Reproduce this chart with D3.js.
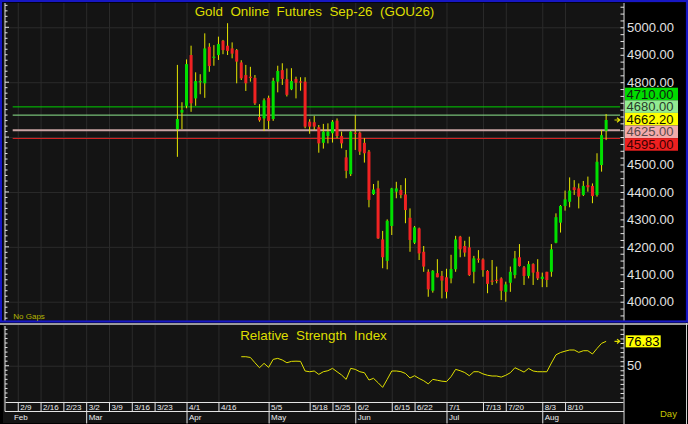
<!DOCTYPE html>
<html>
<head>
<meta charset="utf-8">
<script src="https://cdn.jsdelivr.net/npm/d3@7"></script>
<style>
  body { margin: 0; background: #000; }
  text { font-family: 'Liberation Sans', Arial, sans-serif; }
</style>
</head>
<body>
<div id="chart"></div>
<script>
// daily bars, Gold Online Futures Sep-26
const opens = [4629, 4689, 4714, 4899, 4741, 4800, 4796, 4929, 4889, 4899,
  4951, 4933, 4923, 4917, 4872, 4826, 4820, 4816, 4673, 4668,
  4743, 4666, 4802, 4844, 4811, 4774, 4812, 4803, 4802, 4656,
  4654, 4636, 4579, 4604, 4614, 4660, 4604, 4526, 4465, 4616,
  4616, 4579, 4547, 4392, 4413, 4227, 4149, 4276, 4401, 4407,
  4391, 4306, 4215, 4267, 4182, 4109, 4040, 4104, 4094, 4089,
  4085, 4118, 4237, 4203, 4198, 4109, 4157, 4154, 4112, 4077,
  4080, 4085, 4036, 4069, 4097, 4162, 4125, 4094, 4137, 4109,
  4083, 4109, 4109, 4215, 4288, 4349, 4364, 4417, 4413, 4389,
  4425, 4422, 4389, 4498, 4623]
const highs = [4863, 4727, 4883, 4933, 4836, 4829, 4978, 4942, 4935, 4966,
  4954, 5015, 4945, 4921, 4880, 4863, 4856, 4826, 4720, 4741,
  4751, 4816, 4860, 4869, 4850, 4851, 4820, 4818, 4818, 4665,
  4677, 4644, 4648, 4650, 4662, 4668, 4620, 4553, 4622, 4680,
  4620, 4596, 4553, 4429, 4441, 4258, 4300, 4415, 4437, 4425,
  4450, 4340, 4276, 4270, 4203, 4118, 4115, 4155, 4112, 4120,
  4171, 4240, 4240, 4222, 4237, 4167, 4188, 4158, 4115, 4152,
  4128, 4089, 4073, 4128, 4185, 4210, 4130, 4148, 4140, 4155,
  4106, 4109, 4210, 4322, 4352, 4405, 4453, 4443, 4431, 4440,
  4456, 4431, 4541, 4626, 4684]
const lows = [4528, 4629, 4705, 4692, 4714, 4756, 4743, 4838, 4860, 4881,
  4902, 4899, 4887, 4796, 4808, 4768, 4802, 4717, 4656, 4622,
  4629, 4659, 4763, 4790, 4748, 4771, 4741, 4769, 4632, 4612,
  4626, 4543, 4558, 4577, 4580, 4596, 4559, 4450, 4458, 4553,
  4535, 4507, 4344, 4389, 4229, 4122, 4118, 4243, 4377, 4377,
  4286, 4182, 4210, 4152, 4109, 4018, 4033, 4089, 4012, 4012,
  4067, 4109, 4162, 4164, 4094, 4067, 4142, 4091, 4031, 4061,
  4067, 4006, 4000, 4036, 4085, 4128, 4061, 4085, 4061, 4079,
  4053, 4053, 4091, 4213, 4252, 4332, 4344, 4389, 4340, 4385,
  4401, 4359, 4383, 4474, 4589]
const closes = [4666, 4699, 4866, 4723, 4804, 4804, 4923, 4859, 4893, 4939,
  4917, 4914, 4904, 4875, 4814, 4796, 4816, 4723, 4661, 4734,
  4659, 4805, 4841, 4812, 4754, 4804, 4798, 4800, 4638, 4638,
  4638, 4577, 4620, 4620, 4656, 4604, 4577, 4477, 4620, 4613,
  4547, 4541, 4371, 4409, 4231, 4162, 4295, 4413, 4413, 4389,
  4334, 4225, 4271, 4176, 4128, 4045, 4113, 4089, 4077, 4036,
  4119, 4227, 4191, 4179, 4097, 4158, 4154, 4115, 4065, 4076,
  4078, 4040, 4063, 4109, 4158, 4130, 4094, 4137, 4106, 4085,
  4091, 4079, 4191, 4308, 4349, 4373, 4405, 4407, 4383, 4422,
  4417, 4385, 4510, 4607, 4662.2]

// RSI starts on the 15th bar
const rsiStart = 14
const rsiValues = [59.9, 59.9, 59.1, 53.3, 47.8, 52.6, 48.2, 57.0, 58.1, 56.3,
  53.3, 54.8, 55.0, 54.8, 44.2, 43.4, 44.2, 40.5, 43.4, 44.5,
  47.1, 43.4, 39.8, 35.0, 47.1, 46.0, 43.4, 42.3, 34.3, 36.1,
  31.3, 26.2, 35.0, 44.2, 44.2, 43.5, 41.5, 36.5, 39.0, 36.0,
  33.5, 30.0, 35.0, 34.0, 33.0, 32.5, 38.0, 46.0, 44.5, 42.5,
  39.0, 43.4, 43.4, 41.0, 39.5, 38.7, 38.7, 37.5, 39.5, 42.3,
  47.8, 45.5, 43.0, 47.0, 44.2, 43.4, 43.4, 43.4, 53.0, 62.0,
  64.5, 66.0, 67.3, 67.3, 64.7, 66.5, 66.5, 62.9, 69.0, 74.6,
  76.83]

// price levels drawn as lines, and the axis ticks
const levelValues = [4710, 4680, 4625, 4595]
// 4600 and 4700 sit under the level boxes, so they are not labelled
const priceTicks = [4000, 4100, 4200, 4300, 4400, 4500, 4800, 4900, 5000]
const priceGrid = [4000, 4200, 4400, 4600, 4800, 5000]
const rsiTicks = [50]

// date axis: label and the bar it sits on (bars counted from the first candle)
const dateTicks = ['2/9', '2/16', '2/23', '3/2', '3/9', '3/16', '3/23', '4/1', '4/16', '5/5',
  '5/18', '5/25', '6/2', '6/15', '6/22', '7/1', '7/13', '7/20', '8/3', '8/10']
const dateTickBars = [-35, -30, -25, -20, -15, -10, -5, 2, 9, 20,
  29, 34, 39, 47, 52, 59, 67, 72, 80, 85]
const months = ['Feb', 'Mar', 'Apr', 'May', 'Jun', 'Jul', 'Aug']
const monthBars = [-36.4, -20, 2, 20, 39, 59, 80]

const width = 688
const height = 424

const svg = d3
  .select('#chart')
  .append('svg')
  .attr('width', width)
  .attr('height', height)
  .style('display', 'block')
  .style('background', '#000')

const xPositionScale = d3.scaleLinear().domain([-37.8, 97.7]).range([5, 623])
const yPositionScale = d3.scaleLinear().domain([3929.7, 5088.6]).range([321, 3])
const rsiScale = d3.scaleLinear().domain([10.1, 94.8]).range([402, 325])

const gridColor = '#2b2b2b'
const axisColor = '#e4e4e4'
const yellow = '#dede00'

// backgrounds
svg.append('rect').attr('x', 3).attr('y', 3).attr('width', 620).attr('height', 318).attr('fill', '#141414')
svg.append('rect').attr('x', 3).attr('y', 325).attr('width', 620).attr('height', 98).attr('fill', '#141414')

// grid, price pane
svg
  .append('g')
  .attr('class', 'grid')
  .attr('transform', 'translate(0,3)')
  .call(d3.axisBottom(xPositionScale).tickValues(dateTickBars).tickSize(318).tickFormat(''))
svg
  .append('g')
  .attr('class', 'grid')
  .attr('transform', 'translate(5,0)')
  .call(d3.axisRight(yPositionScale).tickValues(priceGrid).tickSize(618).tickFormat(''))

// grid, rsi pane
svg
  .append('g')
  .attr('class', 'grid')
  .attr('transform', 'translate(0,325)')
  .call(d3.axisBottom(xPositionScale).tickValues(dateTickBars).tickSize(77).tickFormat(''))
svg
  .append('g')
  .attr('class', 'grid')
  .attr('transform', 'translate(5,0)')
  .call(d3.axisRight(rsiScale).tickValues(rsiTicks).tickSize(618).tickFormat(''))

svg.selectAll('.grid .domain').remove()
svg.selectAll('.grid line').attr('stroke', gridColor)

// level lines
const levelLineColors = ['#00d000', '#8ee88e', '#c9a3a3', '#e02424']
const levelLineWidths = [1, 1, 2, 1]
svg
  .selectAll('.level-line')
  .data(levelValues)
  .enter()
  .append('line')
  .attr('class', 'level-line')
  .attr('x1', 12.7)
  .attr('x2', 620)
  .attr('y1', d => yPositionScale(d))
  .attr('y2', d => yPositionScale(d))
  .attr('stroke', (d, i) => levelLineColors[i])
  .attr('stroke-width', (d, i) => levelLineWidths[i])

// candles
const bars = opens.map((o, i) => ({ i: i, o: o, h: highs[i], l: lows[i], c: closes[i] }))

svg
  .selectAll('.wick')
  .data(bars)
  .enter()
  .append('line')
  .attr('class', 'wick')
  .attr('x1', d => xPositionScale(d.i))
  .attr('x2', d => xPositionScale(d.i))
  .attr('y1', d => yPositionScale(d.h))
  .attr('y2', d => yPositionScale(d.l))
  .attr('stroke', '#e6e600')
  .attr('stroke-width', 1)

svg
  .selectAll('.body')
  .data(bars)
  .enter()
  .append('rect')
  .attr('class', 'body')
  .attr('x', d => xPositionScale(d.i) - 1.5)
  .attr('width', 3)
  .attr('y', d => yPositionScale(Math.max(d.o, d.c)))
  .attr('height', d => Math.max(1.2, Math.abs(yPositionScale(d.o) - yPositionScale(d.c))))
  .attr('fill', d => (d.c >= d.o ? '#00e000' : '#f02222'))

// left axes with small ticks
function leftTicks(scale, values, top, bottom, bigEvery) {
  const g = svg.append('g')
  g.append('line').attr('x1', 5).attr('x2', 5).attr('y1', top).attr('y2', bottom).attr('stroke', axisColor)
  g.selectAll('line.t')
    .data(values)
    .enter()
    .append('line')
    .attr('class', 't')
    .attr('x1', 5)
    .attr('x2', d => (d % bigEvery === 0 ? 9 : 7.5))
    .attr('y1', d => scale(d))
    .attr('y2', d => scale(d))
    .attr('stroke', axisColor)
}
leftTicks(yPositionScale, d3.range(3940, 5081, 20), 3, 321, 200)
leftTicks(rsiScale, d3.range(15, 91, 5), 326, 411.5, 50)

// right price axis
const priceAxis = d3
  .axisRight(yPositionScale)
  .tickValues(priceTicks)
  .tickSize(0)
  .tickPadding(3)
  .tickFormat(d3.format('.2f'))
const pa = svg.append('g').attr('transform', 'translate(624,0)').call(priceAxis)
pa.select('.domain').remove()
pa.selectAll('text').attr('fill', '#e2e2e2').style('font-size', '13px')

const minorPrice = d3.axisLeft(yPositionScale).tickValues(d3.range(3950, 5076, 25)).tickSize(3.5).tickFormat('').tickSizeOuter(0)
const mp = svg.append('g').attr('transform', 'translate(624,0)').call(minorPrice)
mp.select('.domain').remove()
mp.selectAll('line').attr('stroke', axisColor)

const rsiAxis = d3.axisRight(rsiScale).tickValues(rsiTicks).tickSize(0).tickPadding(3)
const ra = svg.append('g').attr('transform', 'translate(624,0)').call(rsiAxis)
ra.select('.domain').remove()
ra.selectAll('text').attr('fill', '#e2e2e2').style('font-size', '13px')

const minorRsi = d3.axisLeft(rsiScale).tickValues(d3.range(15, 91, 5)).tickSize(3.5).tickFormat('').tickSizeOuter(0)
const mr = svg.append('g').attr('transform', 'translate(624,0)').call(minorRsi)
mr.select('.domain').remove()
mr.selectAll('line').attr('stroke', axisColor)

// rsi line
const rsiLine = d3
  .line()
  .x((d, i) => xPositionScale(rsiStart + i))
  .y(d => rsiScale(d))
svg
  .append('path')
  .datum(rsiValues)
  .attr('d', rsiLine)
  .attr('fill', 'none')
  .attr('stroke', '#e0e000')
  .attr('stroke-width', 1)

// price level boxes, stacked around the last price
const lastPrice = closes[closes.length - 1]
const boxItems = [
  { v: levelValues[0], bg: '#00dc00', fg: '#102010' },
  { v: levelValues[1], bg: '#92ec92', fg: '#2a3a2a' },
  { v: lastPrice, bg: '#ffff00', fg: '#101000' },
  { v: levelValues[2], bg: '#f2abab', fg: '#5a4a4a' },
  { v: levelValues[3], bg: '#ee2020', fg: '#3a0000' }
]
const boxH = 12.6
boxItems.forEach(d => (d.y = yPositionScale(d.v)))
const anchor = 2
for (let k = anchor - 1; k >= 0; k--) boxItems[k].y = Math.min(boxItems[k].y, boxItems[k + 1].y - boxH)
for (let k = anchor + 1; k < boxItems.length; k++) boxItems[k].y = Math.max(boxItems[k].y, boxItems[k - 1].y + boxH)

const boxes = svg.selectAll('.lvl-box').data(boxItems).enter().append('g').attr('class', 'lvl-box')
boxes
  .append('rect')
  .attr('x', 625)
  .attr('y', d => d.y - boxH / 2 - 0.8)
  .attr('width', 53)
  .attr('height', boxH)
  .attr('fill', d => d.bg)
boxes
  .append('text')
  .attr('x', 626.5)
  .attr('y', d => d.y - 0.8)
  .attr('dy', '0.36em')
  .attr('fill', d => d.fg)
  .style('font-size', '13px')
  .text(d => d3.format('.2f')(d.v))

// rsi value box
const lastRsi = rsiValues[rsiValues.length - 1]
svg
  .append('rect')
  .attr('x', 625.7)
  .attr('y', rsiScale(lastRsi) - 6)
  .attr('width', 35)
  .attr('height', 12)
  .attr('fill', '#ffff00')
svg
  .append('text')
  .attr('x', 627)
  .attr('y', rsiScale(lastRsi))
  .attr('dy', '0.36em')
  .attr('fill', '#000')
  .style('font-size', '13px')
  .text(lastRsi.toFixed(2))

// little arrows at the last value
function arrow(yy) {
  svg
    .append('path')
    .attr('d', `M614.5,${yy}H619.5M617,${yy - 2.2}L619.8,${yy}L617,${yy + 2.2}`)
    .attr('stroke', yellow)
    .attr('stroke-width', 1.2)
    .attr('fill', 'none')
}
arrow(yPositionScale(lastPrice))
arrow(rsiScale(lastRsi))

// axis lines and pane frames
svg.append('line').attr('x1', 624).attr('x2', 624).attr('y1', 3).attr('y2', 321).attr('stroke', axisColor)
svg.append('line').attr('x1', 624).attr('x2', 624).attr('y1', 324).attr('y2', 424).attr('stroke', axisColor)
svg.append('line').attr('x1', 686.5).attr('x2', 686.5).attr('y1', 323).attr('y2', 424).attr('stroke', '#cfcfcf')
svg.append('line').attr('x1', 0).attr('x2', 688).attr('y1', 324).attr('y2', 324).attr('stroke', '#cfcfcf').attr('stroke-width', 1.5)
svg
  .append('rect')
  .attr('x', 1)
  .attr('y', 1)
  .attr('width', 686)
  .attr('height', 320.5)
  .attr('fill', 'none')
  .attr('stroke', '#1717c4')
  .attr('stroke-width', 2.2)

// date axis, two rows
const dateAxis = d3
  .axisBottom(xPositionScale)
  .tickValues(dateTickBars)
  .tickSize(9.5)
  .tickSizeOuter(0)
  .tickFormat((d, i) => dateTicks[i])
const da = svg.append('g').attr('transform', 'translate(0,402)').call(dateAxis)
da.select('.domain').attr('stroke', axisColor)
da.selectAll('.tick line').attr('stroke', axisColor)
da.selectAll('.tick text')
  .attr('x', 2)
  .attr('y', 2.3)
  .attr('dy', '0.71em')
  .attr('text-anchor', 'start')
  .attr('fill', '#eeeeee')
  .style('font-size', '8px')

svg.append('line').attr('x1', 5).attr('x2', 624).attr('y1', 411.5).attr('y2', 411.5).attr('stroke', axisColor)

const monthAxis = d3
  .axisBottom(xPositionScale)
  .tickValues(monthBars)
  .tickSize(12)
  .tickSizeOuter(0)
  .tickFormat((d, i) => months[i])
const ma = svg.append('g').attr('transform', 'translate(0,411.5)').call(monthAxis)
ma.select('.domain').remove()
ma.selectAll('.tick line').attr('stroke', axisColor)
ma.select('.tick line').remove()
ma.selectAll('.tick text')
  .attr('x', 2)
  .attr('y', 3.2)
  .attr('dy', '0.71em')
  .attr('text-anchor', 'start')
  .attr('fill', '#eeeeee')
  .style('font-size', '8px')

svg.selectAll('.tick text').attr('font-family', null)

// titles and notes
svg
  .append('text')
  .attr('x', 314.5)
  .attr('y', 16)
  .attr('text-anchor', 'middle')
  .attr('fill', yellow)
  .style('font-size', '13.4px')
  .style('white-space', 'pre')
  .text('Gold  Online  Futures  Sep-26  (GOU26)')

svg
  .append('text')
  .attr('x', 313.5)
  .attr('y', 340)
  .attr('text-anchor', 'middle')
  .attr('fill', yellow)
  .style('font-size', '13.4px')
  .style('white-space', 'pre')
  .text('Relative  Strength  Index')

svg
  .append('text')
  .attr('x', 13.3)
  .attr('y', 318.5)
  .attr('fill', '#b4b400')
  .style('font-size', '8px')
  .text('No Gaps')

svg
  .append('text')
  .attr('x', 660)
  .attr('y', 416.5)
  .attr('fill', '#c4c400')
  .style('font-size', '9.5px')
  .text('Day')
</script>
</body>
</html>
